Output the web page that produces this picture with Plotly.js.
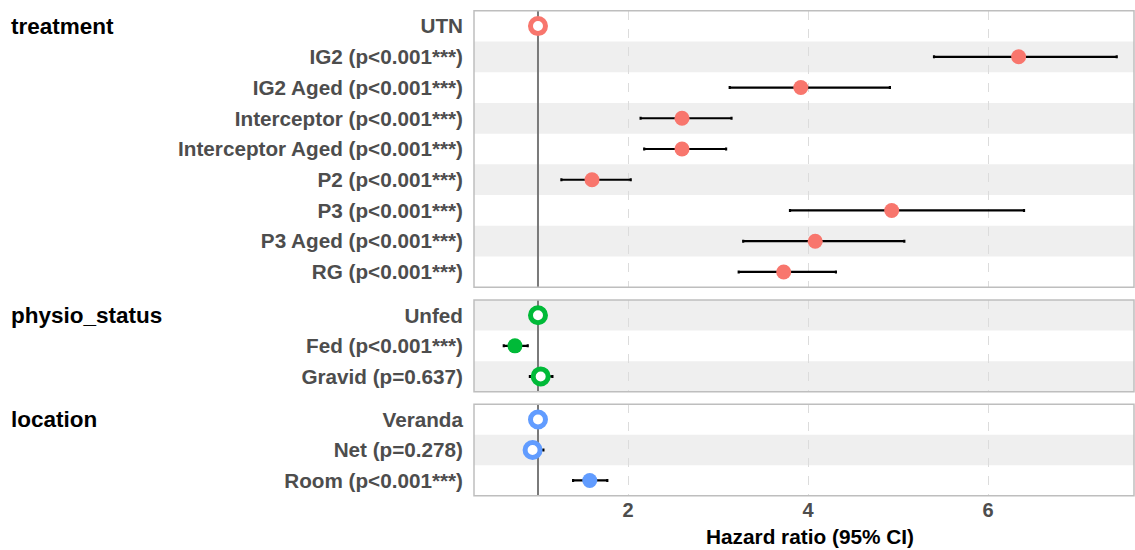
<!DOCTYPE html>
<html><head><meta charset="utf-8">
<script src="https://cdn.plot.ly/plotly-3.0.1.min.js"></script>
<style>html,body{margin:0;padding:0;background:#fff}</style>
</head><body><div id="chart" style="width:1135px;height:550px"></div>
<script>
// ---- data ----
const groupNames = ["treatment", "physio_status", "location"];
const groupColors = ["#F8766D", "#00BA38", "#619CFF"];

const treatmentTerms = ["UTN", "IG2", "IG2 Aged", "Interceptor", "Interceptor Aged", "P2", "P3", "P3 Aged", "RG"];
const treatmentHR = [1, 6.34, 3.92, 2.60, 2.60, 1.60, 4.93, 4.08, 3.73];
const treatmentLo = [1, 5.40, 3.13, 2.14, 2.18, 1.26, 3.80, 3.28, 3.23];
const treatmentHi = [1, 7.43, 4.91, 3.15, 3.09, 2.03, 6.40, 5.07, 4.31];
const treatmentP = ["", "p<0.001***", "p<0.001***", "p<0.001***", "p<0.001***", "p<0.001***", "p<0.001***", "p<0.001***", "p<0.001***"];

const physioTerms = ["Unfed", "Fed", "Gravid"];
const physioHR = [1, 0.744, 1.03];
const physioLo = [1, 0.62, 0.91];
const physioHi = [1, 0.886, 1.16];
const physioP = ["", "p<0.001***", "p=0.637"];

const locationTerms = ["Veranda", "Net", "Room"];
const locationHR = [1, 0.94, 1.575];
const locationLo = [1, 0.86, 1.39];
const locationHi = [1, 1.06, 1.77];
const locationP = ["", "p=0.278", "p<0.001***"];

const xTickVals = [2, 4, 6];
const referenceHR = 1;
const xTitle = "Hazard ratio (95% CI)";

// ---- build ----
const groups = [
  {terms: treatmentTerms, hr: treatmentHR, lo: treatmentLo, hi: treatmentHi, p: treatmentP},
  {terms: physioTerms, hr: physioHR, lo: physioLo, hi: physioHi, p: physioP},
  {terms: locationTerms, hr: locationHR, lo: locationLo, hi: locationHi, p: locationP}
];

const H = 550;
// panel pixel extents (top, bottom)
const panelPx = [[10.7, 287.3], [300, 391.7], [404.3, 495.7]];
const yNames = ["y", "y2", "y3"];
const yKeys = ["yaxis", "yaxis2", "yaxis3"];

const FONT = "Liberation Sans, Arial, sans-serif";
const traces = [];
const shapes = [];
const annotations = [];
const layout = {
  width: 1135, height: 550,
  margin: {l: 474, r: 1, t: 0, b: 0},
  paper_bgcolor: "#ffffff", plot_bgcolor: "#ffffff",
  showlegend: false,
  font: {family: FONT},
  xaxis: {
    anchor: "y3",
    range: [0.289, 7.622],
    tickvals: xTickVals,
    ticktext: xTickVals.map(String),
    showgrid: true, gridcolor: "#DCDCDC", griddash: "dash", gridwidth: 1,
    zeroline: false, showline: false, ticks: "",
    tickfont: {family: FONT, size: 20, color: "#4D4D4D", weight: "bold"},
    automargin: false
  }
};

let rowIndex = 0;
groups.forEach((g, gi) => {
  const labels = g.terms.map((t, i) => g.p[i] ? t + " (" + g.p[i] + ")" : t);
  const hollow = g.p.map(p => !(p.indexOf("*") >= 0));
  const col = groupColors[gi];
  traces.push({
    type: "scatter", mode: "markers",
    x: g.hr, y: labels,
    xaxis: "x", yaxis: yNames[gi],
    error_x: {
      type: "data", symmetric: false,
      array: g.hi.map((v, i) => v - g.hr[i]),
      arrayminus: g.hr.map((v, i) => v - g.lo[i]),
      color: "#000000", thickness: 2.2, width: 1.5
    },
    marker: {
      symbol: "circle",
      size: 15,
      opacity: 1,
      color: hollow.map(h => h ? "#ffffff" : col),
      line: {color: col, width: hollow.map(h => h ? 5 : 0)}
    },
    hoverinfo: "x+y"
  });
  const n = g.terms.length;
  const d0 = 1 - panelPx[gi][1] / H, d1 = 1 - panelPx[gi][0] / H;
  layout[yKeys[gi]] = {
    domain: [d0, d1],
    anchor: "x",
    type: "category",
    categoryorder: "array", categoryarray: labels,
    range: [n - 0.5, -0.5],
    showgrid: false, zeroline: false, showline: false, ticks: "",
    ticklabelstandoff: 10,
    tickfont: {family: FONT, size: 20.7, color: "#4D4D4D", weight: "bold"},
    automargin: false
  };
  // stripes (alternating across all rows)
  for (let i = 0; i < n; i++) {
    if ((rowIndex + i) % 2 === 1) {
      shapes.push({type: "rect", xref: "x domain", yref: yNames[gi],
        x0: 0, x1: 1, y0: i - 0.5, y1: i + 0.5,
        fillcolor: "#EFEFEF", line: {width: 0}, layer: "below"});
    }
  }
  rowIndex += n;
  // reference line
  shapes.push({type: "line", xref: "x", yref: yNames[gi] + " domain",
    x0: referenceHR, x1: referenceHR, y0: 0, y1: 1,
    line: {color: "#7A7A7A", width: 2}, layer: "below"});
  // panel border
  shapes.push({type: "rect", xref: "x domain", yref: yNames[gi] + " domain",
    x0: 0, x1: 1, y0: 0, y1: 1,
    line: {color: "#BEBEBE", width: 1.5}, fillcolor: "rgba(0,0,0,0)", layer: "above"});
  // group label
  annotations.push({xref: "paper", yref: yNames[gi], x: (9 - 474) / 660, y: 0,
    xanchor: "left", yanchor: "middle", showarrow: false, text: groupNames[gi],
    font: {family: FONT, size: 22.5, color: "#000000", weight: "bold"}});
});

// x-axis title
annotations.push({xref: "paper", yref: "paper", x: (810 - 474) / 660, y: 1 - 536 / H,
  xanchor: "center", yanchor: "middle", showarrow: false, text: xTitle,
  font: {family: FONT, size: 20.8, color: "#000000", weight: "bold"}});

layout.shapes = shapes;
layout.annotations = annotations;

Plotly.newPlot("chart", traces, layout, {displayModeBar: false, responsive: false});
</script>
</body></html>
